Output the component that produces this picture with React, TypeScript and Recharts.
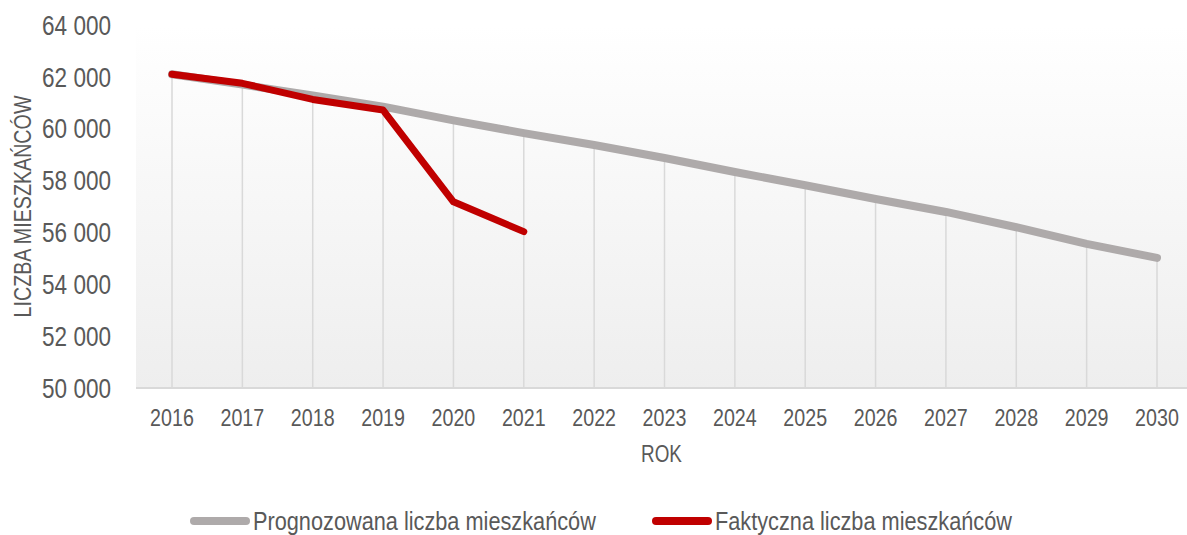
import { LineChart, Line, XAxis, YAxis, CartesianGrid, ReferenceLine, Legend, Label } from "recharts";

const years = ['2016', '2017', '2018', '2019', '2020', '2021', '2022', '2023', '2024', '2025', '2026', '2027', '2028', '2029', '2030'];
const forecast = [62100, 61700, 61280, 60850, 60320, 59830, 59370, 58870, 58330, 57820, 57290, 56790, 56200, 55560, 55020];
const actual = [62100, 61750, 61130, 60720, 57180, 56030];
const yTicks = [50000, 52000, 54000, 56000, 58000, 60000, 62000, 64000];
const seriesNames = ['Prognozowana liczba mieszkańców', 'Faktyczna liczba mieszkańców'];

// Arial Narrow look: Liberation Sans squeezed horizontally
const FONT = '"Liberation Sans", Arial, sans-serif';
const NARROW = 0.82;
const TEXT = '#595959';

const data = years.map((year, i) => ({
  year,
  forecast: forecast[i],
  actual: i < actual.length ? actual[i] : null,
}));

const fmt = (v: number) => String(v).replace(/\B(?=(\d{3})+(?!\d))/g, ' ');

const XTick = (props: any) => {
  const { x, y, payload } = props;
  return (
    <text transform={`translate(${x},${y}) scale(${NARROW},1)`} textAnchor="middle" dy="0.71em" fontFamily={FONT} fontSize={24} fill={TEXT}>
      {payload.value}
    </text>
  );
};

const YTick = (props: any) => {
  const { x, y, payload } = props;
  return (
    <text transform={`translate(${x},${y}) scale(${NARROW},1)`} textAnchor="end" dy="0.355em" fontFamily={FONT} fontSize={27.5} fill={TEXT}>
      {fmt(payload.value)}
    </text>
  );
};

const renderRok = (props: any) => {
  const { x, y, width } = props.viewBox;
  return (
    <text transform={`translate(${x + width / 2},${y + 73.5}) scale(${NARROW},1)`} textAnchor="middle" fontFamily={FONT} fontSize={23} fill={TEXT}>
      ROK
    </text>
  );
};

const renderYTitle = (props: any) => {
  const { y, height } = props.viewBox;
  return (
    <text transform={`translate(31,${y + height / 2}) rotate(-90) scale(${NARROW},1)`} textAnchor="middle" fontFamily={FONT} fontSize={24} fill={TEXT}>
      LICZBA MIESZKAŃCÓW
    </text>
  );
};

const legendX = [190, 652];

const renderLegend = (props: any) => {
  const items = [...(props.payload || [])].sort((a: any, b: any) => seriesNames.indexOf(a.value) - seriesNames.indexOf(b.value));
  return (
    <svg width={1187} height={30} style={{ display: 'block' }}>
      {items.map((p: any, i: number) => (
        <g key={p.value}>
          <line x1={legendX[i] + 4} x2={legendX[i] + 56} y1={15} y2={15} stroke={p.color} strokeWidth={8} strokeLinecap="round" />
          <text transform={`translate(${legendX[i] + 63},15) scale(${NARROW},1)`} dy="0.355em" fontFamily={FONT} fontSize={26.5} fill={TEXT}>
            {p.value}
          </text>
        </g>
      ))}
    </svg>
  );
};

export default function App() {
  return (
    <div style={{ position: 'absolute', left: 0, top: 0 }}>
      <LineChart width={1187} height={535} data={data} margin={{ top: 25, right: 0, left: 0, bottom: 37 }}>
        <defs>
          <linearGradient id="plotBg" x1="0" y1="0" x2="0" y2="1">
            <stop offset="0%" stopColor="#ffffff" />
            <stop offset="100%" stopColor="#eeeeee" />
          </linearGradient>
        </defs>
        <CartesianGrid horizontal={false} vertical={false} fill="url(#plotBg)" />
        <XAxis
          dataKey="year"
          scale="point"
          padding={{ left: 36, right: 30 }}
          height={80}
          tickLine={false}
          tickSize={0}
          tickMargin={21}
          axisLine={{ stroke: '#d9d9d9', strokeWidth: 2 }}
          tick={<XTick />}
        >
          <Label content={renderRok} />
        </XAxis>
        <YAxis
          width={136}
          domain={[50000, 64000]}
          ticks={yTicks}
          axisLine={false}
          tickLine={false}
          tickSize={0}
          tickMargin={25}
          tick={<YTick />}
        >
          <Label content={renderYTitle} />
        </YAxis>
        {data.map((d) => (
          <ReferenceLine
            key={d.year}
            segment={[{ x: d.year, y: 50000 }, { x: d.year, y: Math.max(d.forecast, d.actual ?? 0) }]}
            stroke="#d9d9d9"
            strokeWidth={1.5}
          />
        ))}
        <Line type="linear" dataKey="forecast" name={seriesNames[0]} stroke="#aeaaaa" strokeWidth={8} strokeLinecap="round" strokeLinejoin="round" dot={false} activeDot={false} isAnimationActive={false} />
        <Line type="linear" dataKey="actual" name={seriesNames[1]} stroke="#c00000" strokeWidth={7} strokeLinecap="round" strokeLinejoin="round" dot={false} activeDot={false} isAnimationActive={false} />
        <Legend verticalAlign="bottom" content={renderLegend} wrapperStyle={{ top: 506, left: 0, width: 1187, height: 30 }} />
      </LineChart>
    </div>
  );
}
